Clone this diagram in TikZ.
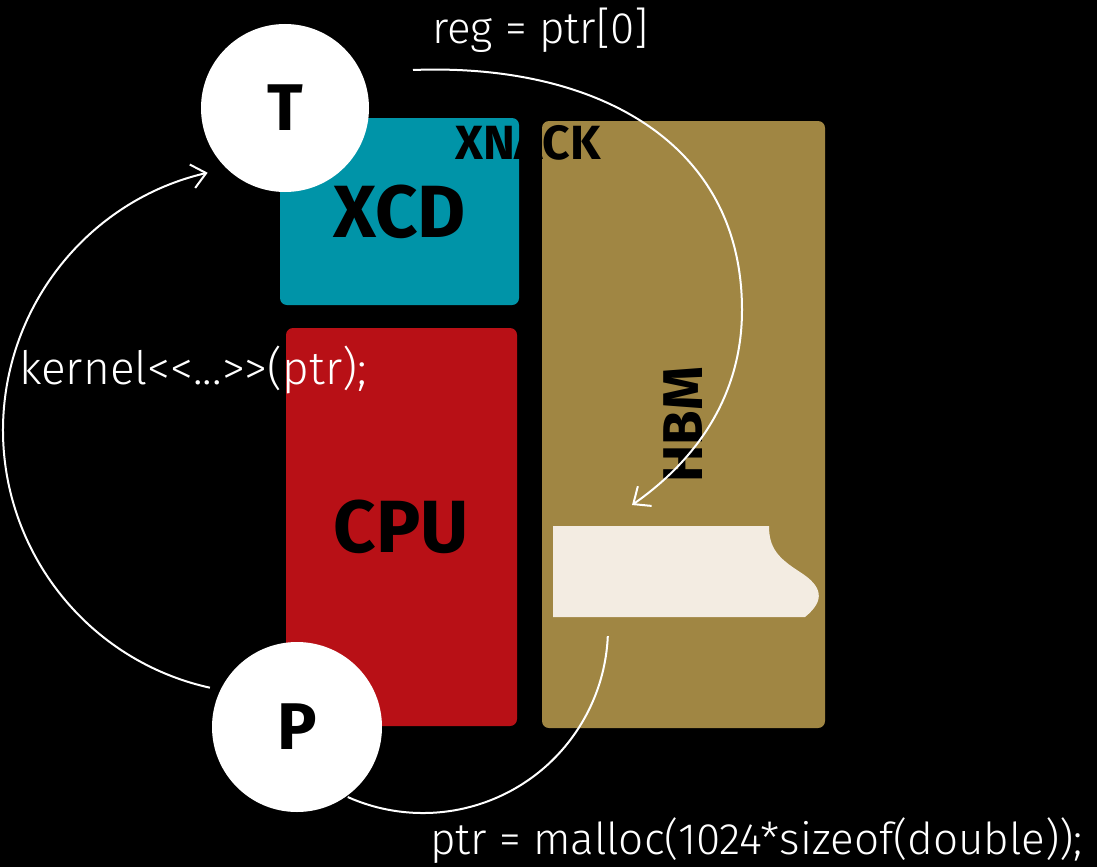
\documentclass[tikz,border=0pt]{standalone}
\usepackage{fontspec}
\setmainfont{Fira Sans}
\newfontfamily\codefont{Fira Sans Light}
\usetikzlibrary{arrows.meta}
\definecolor{xcdc}{HTML}{0094A8}
\definecolor{cpuc}{HTML}{B81016}
\definecolor{hbmc}{HTML}{A08643}
\definecolor{creamc}{HTML}{F3ECE2}
\tikzset{
  lbl/.style={font=\bfseries\fontsize{74}{74}\selectfont, text=black},
  smalllbl/.style={font=\bfseries\fontsize{50}{50}\selectfont, text=black, inner sep=0},
  code/.style={font=\codefont\fontsize{44}{44}\selectfont, text=white, inner sep=0},
  box/.style={rounded corners=7pt, inner sep=0},
  circ/.style={circle, fill=white, inner sep=0, font=\bfseries\fontsize{66}{66}\selectfont, text=black},
  arr/.style={white, line width=2pt, -{Straight Barb[length=14pt,width=24pt]}},
  conn/.style={white, line width=2pt}
}
\begin{document}
\begin{tikzpicture}[x=1pt,y=-1pt]
\useasboundingbox (0,0) rectangle (1097,867);
\fill[black] (0,0) rectangle (1097,867);
% boxes
\node[box, fill=xcdc, minimum width=239pt, minimum height=187pt, lbl] (XCD) at (399.5,211.5) {XCD};
\node[box, fill=cpuc, minimum width=231pt, minimum height=398pt, lbl] (CPU) at (401.5,527) {CPU};
\node[box, fill=hbmc, minimum width=283pt, minimum height=607pt] (HBM) at (683.5,424.5) {};
\node[smalllbl, font=\bfseries\fontsize{56}{56}\selectfont, rotate=90] (HBMl) at (HBM.center) {HBM};
% cream data block
\fill[creamc] (553,526) -- (769,526) .. controls (769,548) and (778,558) .. (800,572)
   .. controls (822,586) and (826,600) .. (805,617) -- (553,617) -- cycle;
\coordinate (blk) at (608,636);
% circles
\node[circ, minimum size=168pt] (T) at (285,108) {T};
\node[circ, minimum size=170pt] (P) at (297,727) {P};
% XNACK label
\node[smalllbl, font=\bfseries\fontsize{48}{48}\selectfont] (XN) at (528,143) {XNACK};
% code labels
\node[code, anchor=base west] (reg) at (432,44) {reg = ptr[0]};
\node[code, font=\codefont\fontsize{46}{46}\selectfont, anchor=base west] (kern) at (19,384) {kernel<<...>>(ptr);};
\node[code, anchor=base west] (mal) at (430,854) {ptr = malloc(1024*sizeof(double));};
% connectors
\coordinate (a1) at (413,70);
\coordinate (a2) at (742,310);
\coordinate (a3) at (632,505);
\draw[arr] (a1) .. controls (593,63) and (742,140) .. (a2)
   .. controls (742,400) and (692,463) .. (a3);
\coordinate (b1) at (209.9,687.7);
\draw[arr] (b1) arc[start angle=102.5, end angle=257, radius=264];
\coordinate (c1) at (607.8,636.1);
\draw[conn] (c1) arc[start angle=2.5, end angle=114, radius=185];
\end{tikzpicture}
\end{document}
